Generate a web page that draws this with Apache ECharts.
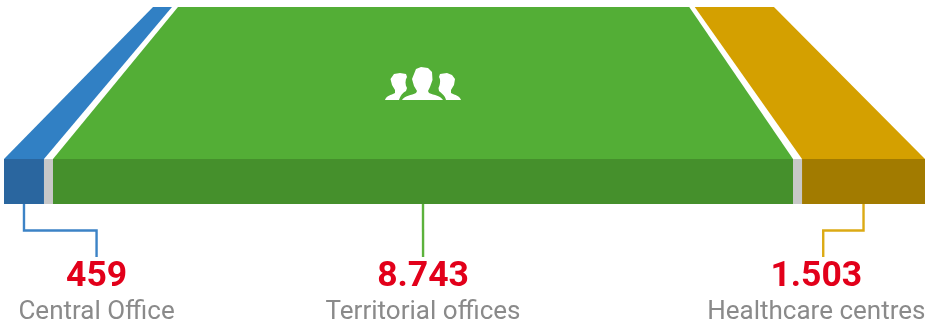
<!DOCTYPE html>
<html><head><meta charset="utf-8">
<style>html,body{margin:0;padding:0;background:#fff}#c{width:933px;height:325px}</style>
<script src="https://cdn.jsdelivr.net/npm/echarts@6/dist/echarts.min.js"></script>
</head><body><div id="c"></div>
<script>
// Data
const categories = ['Central Office', 'Territorial offices', 'Healthcare centres'];
const valueLabels = ['459', '8.743', '1.503'];
// Drawn share of the band (percent of full width), front face
const frontShare = [4.34, 80.35, 13.35];
const gapShare = [0.98, 0.98];
// Rear edge of each top face (percent of full width)
const backStart = [16.18, 18.89, 75.0];
const backEnd = [18.24, 74.4, 83.6];

const topColors = ['#3180c4', '#53ae36', '#d4a000'];
const frontColors = ['#2a669f', '#45902c', '#a27b00'];
const lineColors = ['#3c83c6', '#5cb23c', '#dcaa14'];
const labelX = [10.05, 45.5, 88.2];
const dropX = [10.05, 45.5, 88.95];
const gapColor = '#c8c8c8';
const iconPath = 'M31 2 L36 0 L43 1 L47 5 L47.5 13 L45 20 L43 24 L44 26 C49 28 56 29 58 33 L17 33 C19 29 27 28 31 26 L32 24 L29 19 L27 12 Z ' +
  'M9 7 L15 6 L21 7 L22 10 C20 13 20 18 22 21 L21 24 C19 25 16 27 14 33 L0 33 C1 29 6 28 10 26 L10 23 L7 18 L5.5 12 Z ' +
  'M55 7 L62 6 L67 8 L70 12 L69 18 L66 23 L66 26 C70 28 75 29 76 33 L61 33 C60 28 56 26 54 24 L53.5 21 C55 18 56 13 54 10 Z';

let acc = 0;
const frontStart = frontShare.map((v, i) => { const s = acc; acc += v + (gapShare[i] || 0); return s; });
const frontEnd = frontStart.map((s, i) => s + frontShare[i]);

const stackItems = [];
frontShare.forEach((v, i) => {
  stackItems.push({ v, c: frontColors[i] });
  if (i < gapShare.length) stackItems.push({ v: gapShare[i], c: gapColor });
});

const axisOff = { show: false };
const chart = echarts.init(document.getElementById('c'), null, { renderer: 'canvas' });
chart.setOption({
  animation: false,
  backgroundColor: '#fff',
  grid: [
    { left: 4, width: 921, top: 7, height: 152 },
    { left: 4, width: 921, top: 159, height: 45 },
    { left: 4, width: 921, top: 204, height: 121 }
  ],
  xAxis: [0, 1, 2].map(g => ({ type: 'value', gridIndex: g, min: 0, max: 100, ...axisOff })),
  yAxis: [
    { type: 'value', gridIndex: 0, min: 0, max: 1, ...axisOff },
    { type: 'category', gridIndex: 1, data: ['band'], ...axisOff },
    { type: 'value', gridIndex: 2, min: 0, max: 121, inverse: true, ...axisOff }
  ],
  series: [
    {
      type: 'custom', xAxisIndex: 0, yAxisIndex: 0, silent: true,
      data: categories.map((c, i) => [frontStart[i], frontEnd[i], backStart[i], backEnd[i]]),
      renderItem(params, api) {
        const i = params.dataIndex;
        const poly = {
          type: 'polygon',
          shape: { points: [
            api.coord([api.value(0), 0]), api.coord([api.value(1), 0]),
            api.coord([api.value(3), 1]), api.coord([api.value(2), 1])
          ] },
          style: { fill: topColors[i] }
        };
        if (i !== 1) return poly;
        return { type: 'group', children: [poly, {
          type: 'path', x: 385, y: 67,
          shape: { pathData: iconPath, x: 0, y: 0, width: 76, height: 33, layout: 'cover' },
          style: { fill: '#fff' }
        }] };
      }
    },
    ...stackItems.map(it => ({
      type: 'bar', xAxisIndex: 1, yAxisIndex: 1, stack: 'front', silent: true,
      barWidth: '100%', data: [it.v], itemStyle: { color: it.c }
    })),
    {
      type: 'custom', xAxisIndex: 2, yAxisIndex: 2, silent: true, clip: false,
      data: categories.map((c, i) => [(frontStart[i] + frontEnd[i]) / 2, dropX[i], labelX[i]]),
      renderItem(params, api) {
        const i = params.dataIndex;
        const a = api.value(0), d = api.value(1), l = api.value(2);
        const p0 = api.coord([a, 0]), p1 = api.coord([a, 26.5]), p2 = api.coord([d, 26.5]), p3 = api.coord([d, 53]);
        const t = api.coord([l, 0]);
        return {
          type: 'group',
          children: [
            { type: 'polyline', shape: { points: [p0, p1, p2, p3] },
              style: { stroke: lineColors[i], lineWidth: 2.4, fill: null } },
            { type: 'text', x: t[0], y: 277.5,
              style: { text: valueLabels[i], fill: '#e2001a', font: 'bold 35.5px Roboto', align: 'center', verticalAlign: 'middle' } },
            { type: 'text', x: t[0], y: 312.5,
              style: { text: categories[i], fill: '#8a8a8a', font: '26px Roboto', align: 'center', verticalAlign: 'middle' } }
          ]
        };
      }
    }
  ]
});
</script></body></html>
